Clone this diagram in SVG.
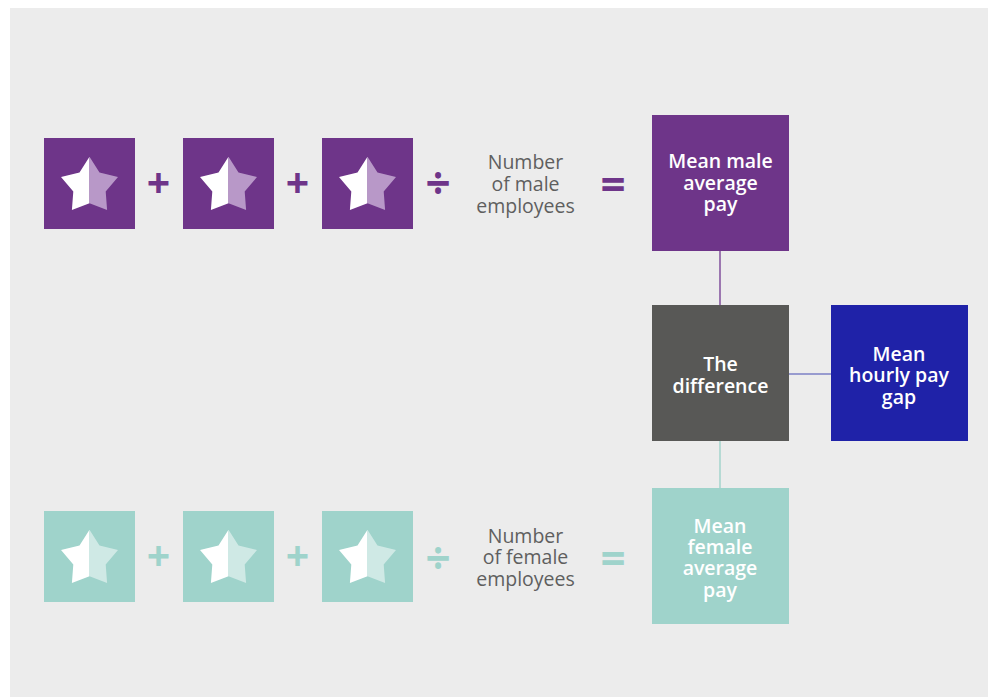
<svg xmlns="http://www.w3.org/2000/svg" width="988" height="697" viewBox="0 0 988 697">
  <style>
    .bg { fill: #ececec; }
    .male { fill: #6e3589; }
    .female { fill: #9fd3cb; }
    .diff { fill: #585856; }
    .gap { fill: #1f22a8; }
    .star-l { fill: #ffffff; }
    .star-r.m { fill: #b898c8; }
    .star-r.f { fill: #cfe9e5; }
    .op { font-family: "Open Sans", "Noto Sans", sans-serif; font-weight: 700; text-anchor: middle; }
    .op.m { fill: #6e3589; }
    .op.f { fill: #9fd3cb; }
    .lbl { font-family: "Open Sans", "Noto Sans", sans-serif; font-size: 19.5px; fill: #5f5f5f; text-anchor: middle; }
    .box-t { font-family: "Open Sans", "Noto Sans", sans-serif; font-size: 19.5px; font-weight: 600; fill: #ffffff; text-anchor: middle; }
    .conn { fill: none; stroke-width: 1.4; }
  </style>
  <defs>
    <!-- two-tone star, centred on its own origin -->
    <path id="starL" d="M0,-29.5 L-10,-13.75 L-28.5,-9.1 L-16.2,5.25 L-17.6,23.9 L0,17 Z"/>
    <path id="starR" d="M0,-29.5 L10,-13.75 L28.5,-9.1 L16.2,5.25 L17.6,23.9 L0,17 Z"/>
  </defs>

  <rect class="bg" x="10" y="8" width="978" height="689"/>

  <!-- connectors -->
  <g id="connectors">
    <line class="conn" x1="720" y1="251" x2="720" y2="305" stroke="#7a4597"/>
    <line class="conn" x1="789" y1="374" x2="831" y2="374" stroke="#7d80c6"/>
    <line class="conn" x1="720" y1="441" x2="720" y2="488" stroke="#9fd3cb"/>
  </g>

  <!-- male row -->
  <g id="male-star-1">
    <rect class="male" x="44" y="138" width="91" height="91"/>
    <use href="#starL" class="star-l" x="89.5" y="186.2"/>
    <use href="#starR" class="star-r m" x="89.5" y="186.2"/>
  </g>
  <g id="male-plus-1"><text class="op m" x="158.5" y="197.5" font-size="41">+</text></g>
  <g id="male-star-2">
    <rect class="male" x="183" y="138" width="91" height="91"/>
    <use href="#starL" class="star-l" x="228.5" y="186.2"/>
    <use href="#starR" class="star-r m" x="228.5" y="186.2"/>
  </g>
  <g id="male-plus-2"><text class="op m" x="297.5" y="197.5" font-size="41">+</text></g>
  <g id="male-star-3">
    <rect class="male" x="322" y="138" width="91" height="91"/>
    <use href="#starL" class="star-l" x="367.5" y="186.2"/>
    <use href="#starR" class="star-r m" x="367.5" y="186.2"/>
  </g>
  <g id="male-divide"><text class="op m" x="438" y="198.5" font-size="44">÷</text></g>
  <g id="male-count">
    <text class="lbl" x="525.5" y="169.3">Number</text>
    <text class="lbl" x="525.5" y="191">of male</text>
    <text class="lbl" x="525.5" y="212.7">employees</text>
  </g>
  <g id="male-equals"><text class="op m" x="613" y="199.5" font-size="44">=</text></g>
  <g id="mean-male">
    <rect class="male" x="652" y="115" width="137" height="136"/>
    <text class="box-t" x="720.5" y="168.3">Mean male</text>
    <text class="box-t" x="720.5" y="189.6">average</text>
    <text class="box-t" x="720.5" y="210.9">pay</text>
  </g>

  <!-- difference and result -->
  <g id="difference">
    <rect class="diff" x="652" y="305" width="137" height="136"/>
    <text class="box-t" x="720.5" y="371">The</text>
    <text class="box-t" x="720.5" y="393.3">difference</text>
  </g>
  <g id="pay-gap">
    <rect class="gap" x="831" y="305" width="137" height="136"/>
    <text class="box-t" x="899" y="360.7">Mean</text>
    <text class="box-t" x="899" y="382.3">hourly pay</text>
    <text class="box-t" x="899" y="403.5">gap</text>
  </g>

  <!-- female row -->
  <g id="female-star-1">
    <rect class="female" x="44" y="511" width="91" height="91"/>
    <use href="#starL" class="star-l" x="89.5" y="559.2"/>
    <use href="#starR" class="star-r f" x="89.5" y="559.2"/>
  </g>
  <g id="female-plus-1"><text class="op f" x="158.5" y="571" font-size="41">+</text></g>
  <g id="female-star-2">
    <rect class="female" x="183" y="511" width="91" height="91"/>
    <use href="#starL" class="star-l" x="228.5" y="559.2"/>
    <use href="#starR" class="star-r f" x="228.5" y="559.2"/>
  </g>
  <g id="female-plus-2"><text class="op f" x="297.5" y="571" font-size="41">+</text></g>
  <g id="female-star-3">
    <rect class="female" x="322" y="511" width="91" height="91"/>
    <use href="#starL" class="star-l" x="367.5" y="559.2"/>
    <use href="#starR" class="star-r f" x="367.5" y="559.2"/>
  </g>
  <g id="female-divide"><text class="op f" x="438" y="573.5" font-size="44">÷</text></g>
  <g id="female-count">
    <text class="lbl" x="525.5" y="542.7">Number</text>
    <text class="lbl" x="525.5" y="564.4">of female</text>
    <text class="lbl" x="525.5" y="586">employees</text>
  </g>
  <g id="female-equals"><text class="op f" x="613" y="573.5" font-size="44">=</text></g>
  <g id="mean-female">
    <rect class="female" x="652" y="488" width="137" height="136"/>
    <text class="box-t" x="720" y="532.7">Mean</text>
    <text class="box-t" x="720" y="554">female</text>
    <text class="box-t" x="720" y="575.3">average</text>
    <text class="box-t" x="720" y="596.7">pay</text>
  </g>
</svg>
